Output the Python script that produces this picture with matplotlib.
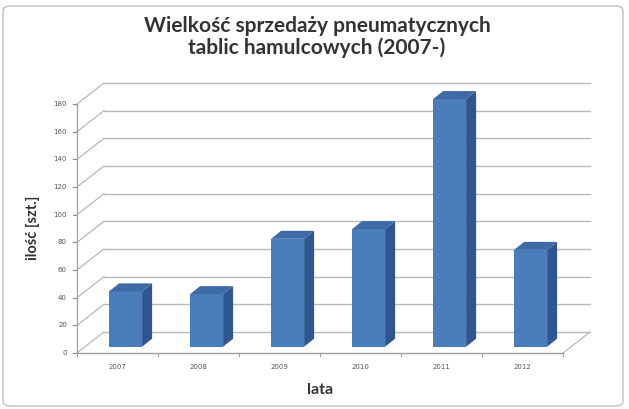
import matplotlib
matplotlib.use("Agg")
import matplotlib.pyplot as plt
from matplotlib.patches import Polygon, FancyBboxPatch
import numpy as np

years = ["2007", "2008", "2009", "2010", "2011", "2012"]
values = [40, 38, 78, 85, 179, 70]
y_ticks = [0, 20, 40, 60, 80, 100, 120, 140, 160, 180]

title = "Wielkość sprzedaży pneumatycznych\ntablic hamulcowych (2007-)"
xlabel = "lata"
ylabel = "ilość [szt.]"

W, H = 629, 409
fig = plt.figure(figsize=(W / 100, H / 100), dpi=100)
fig.patch.set_facecolor("white")

# figure frame
frame = FancyBboxPatch((3 / W, 3 / H), (W - 9) / W, (H - 9) / H,
                       boxstyle="round,pad=0,rounding_size=0.012",
                       transform=fig.transFigure, facecolor="white",
                       edgecolor="#c8c8c8", linewidth=1.2, zorder=-10)
fig.patches.append(frame)

left, right, top, bottom = 77, 563, 104, 353
ax = fig.add_axes([left / W, 1 - bottom / H, (right - left) / W, (bottom - top) / H])
ax.set_xlim(-0.5, len(years) - 0.5)
ax.set_ylim(0, 180)
ax.axis("off")

px_x = (len(years)) / (right - left)      # data units per pixel x
px_y = 180 / (bottom - top)               # data units per pixel y
DX, DY = 27 * px_x, 21 * px_y              # full depth offset

grid_c = "#b8b8b8"
# back wall gridlines and side wall slants
for t in y_ticks:
    ax.plot([-0.5 + DX, len(years) - 0.5 + DX], [t + DY, t + DY],
            color=grid_c, lw=1.0, clip_on=False, zorder=1)
    ax.plot([-0.5, -0.5 + DX], [t, t + DY], color=grid_c, lw=0.9,
            clip_on=False, zorder=1)
    ax.plot([-0.5 - 4 * px_x, -0.5], [t, t], color="#888888", lw=0.8,
            clip_on=False, zorder=2)
    ax.text(-0.5 - 10 * px_x, t, str(t), ha="right", va="center",
            fontsize=5, color="#555555", family="DejaVu Sans")

# floor
ax.plot([-0.5, len(years) - 0.5], [0, 0], color="#a0a0a0", lw=1.0,
        clip_on=False, zorder=2)
ax.plot([len(years) - 0.5, len(years) - 0.5 + DX], [0, DY], color=grid_c,
        lw=0.9, clip_on=False, zorder=1)
ax.plot([-0.5, -0.5], [0, 180], color="#a0a0a0", lw=0.9, clip_on=False, zorder=2)
for i in range(len(years) + 1):
    ax.plot([i - 0.5, i - 0.5], [0, -3 * px_y], color="#a0a0a0", lw=0.8,
            clip_on=False)

# bars (pseudo 3D)
bx, by = 0.3 * DX, 0.3 * DY
bw = 33 * px_x
sdx, sdy = 10 * px_x, 8 * px_y
front_c, side_c, top_c = "#4a7ebb", "#2f5690", "#3e6aa6"
for i, v in enumerate(values):
    x0 = i - bw / 2 + bx
    x1 = x0 + bw
    y0 = by
    y1 = v + by
    ax.add_patch(Polygon([[x0, y0], [x1, y0], [x1, y1], [x0, y1]],
                         closed=True, facecolor=front_c, edgecolor="none",
                         zorder=5, clip_on=False))
    ax.add_patch(Polygon([[x1, y0], [x1 + sdx, y0 + sdy], [x1 + sdx, y1 + sdy],
                          [x1, y1]], closed=True, facecolor=side_c,
                         edgecolor="none", zorder=5, clip_on=False))
    ax.add_patch(Polygon([[x0, y1], [x1, y1], [x1 + sdx, y1 + sdy],
                          [x0 + sdx, y1 + sdy]], closed=True, facecolor=top_c,
                         edgecolor="none", zorder=5, clip_on=False))
    ax.text(i, -14 * px_y, years[i], ha="center", va="center", fontsize=5,
            color="#555555", family="DejaVu Sans")

fig.text(317 / W, 1 - 37 / H, title, ha="center", va="center",
         fontsize=15, fontweight="bold", color="#333333", family="Lato",
         linespacing=1.1)
fig.text(320 / W, 1 - 390 / H, xlabel, ha="center", va="center",
         fontsize=11.5, fontweight="bold", color="#333333", family="Lato")
fig.text(33 / W, 1 - 228 / H, ylabel, ha="center", va="center", rotation=90,
         fontsize=10.5, fontweight="bold", color="#333333", family="Lato")

fig.savefig("out.png", dpi=100)
